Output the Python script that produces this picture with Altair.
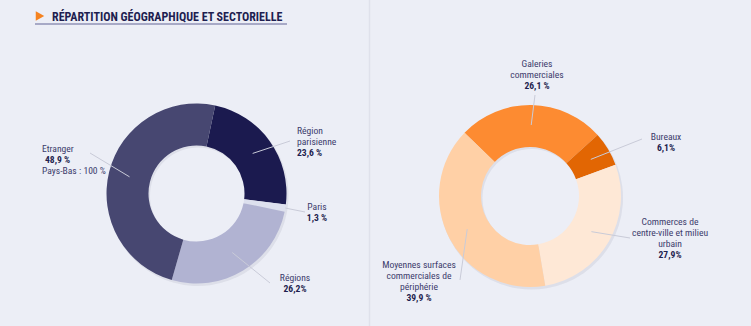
import math
import altair as alt
import pandas as pd

# ---------------- data ----------------
title_text = "RÉPARTITION GÉOGRAPHIQUE ET SECTORIELLE"

geo_labels = ["Région parisienne", "Paris", "Régions", "Etranger"]
geo_values = [23.6, 1.3, 26.2, 48.9]
geo_value_text = ["23,6 %", "1,3 %", "26,2%", "48,9 %"]
geo_name_lines = [["Région", "parisienne"], ["Paris"], ["Régions"], ["Etranger"]]
geo_extra = ["", "", "", "Pays-Bas : 100 %"]

sect_labels = ["Galeries commerciales", "Bureaux",
               "Commerces de centre-ville et milieu urbain",
               "Moyennes surfaces commerciales de périphérie"]
sect_values = [26.1, 6.1, 27.9, 39.9]
sect_value_text = ["26,1 %", "6,1%", "27,9%", "39,9 %"]
sect_name_lines = [["Galeries", "commerciales"], ["Bureaux"],
                   ["Commerces de", "centre-ville et milieu", "urbain"],
                   ["Moyennes surfaces", "commerciales de", "périphérie"]]
sect_extra = ["", "", "", ""]

# ---------------- styles / layout ----------------
W, H = 751, 326
BG = "#eceef6"
FONT = "Roboto Condensed, Liberation Sans Narrow, sans-serif"
NAME_COLOR = "#3c3c6c"
VALUE_COLOR = "#1f1f4f"
LEADER = "#c9cbd8"
FS = 9.6

geo_colors = ["#1b1a4f", "#dde0ee", "#b1b3d2", "#474771"]
sect_colors = ["#fd8b31", "#e26603", "#fee8d6", "#ffd0a6"]

LEFT = dict(cx=196.5, cy=193.5, r_out=90, r_in=48, start=12)
RIGHT = dict(cx=530, cy=196, r_out=91, r_in=49, start=314)

# leader line: (radius of start point, end point) and label block (x, y first line, align, value dx)
geo_leader = [(69, 290, 141), (90, 305, 212), (69, 270, 283), (69, 90, 153)]
geo_block = [(297, 131, "left", 0), (317, 207, "center", 0),
             (295, 278, "center", 0), (42, 149, "left", 3)]
sect_leader = [(71, 535, 95), (71, 642, 139), (71, 630, 238), (71, 460, 280)]
sect_block = [(537, 64, "center", 0), (666, 137, "center", 0),
              (670, 222, "center", 0), (419, 265, "center", 0)]
LINE_H = 11


def donut(labels, values, colors, g):
    df = pd.DataFrame({"cat": labels, "val": values, "ord": list(range(len(values)))})
    s = math.radians(g["start"])
    theta = alt.Theta("val:Q", stack=True,
                      scale=alt.Scale(domain=[0, sum(values)], range=[s, s + 2 * math.pi]))
    shadow = alt.Chart(df).mark_arc(radius=g["r_out"] + 0.5, radius2=g["r_in"],
                                    color="#70728a", opacity=0.12).encode(
        theta=theta, order=alt.Order("ord:Q"),
        x=alt.value(g["cx"] + 1.5), y=alt.value(g["cy"] + 2))
    ring = alt.Chart(df).mark_arc(radius=g["r_out"], radius2=g["r_in"]).encode(
        theta=theta, order=alt.Order("ord:Q"),
        color=alt.Color("cat:N", scale=alt.Scale(domain=labels, range=colors), legend=None),
        x=alt.value(g["cx"]), y=alt.value(g["cy"]))
    return shadow, ring


def leaders(values, g, spec):
    total = sum(values)
    rows, cum = [], 0.0
    for v, (r, ex, ey) in zip(values, spec):
        mid = math.radians(g["start"] + 360 * (cum + v / 2) / total)
        cum += v
        rows.append({"x": g["cx"] + r * math.sin(mid), "y": g["cy"] - r * math.cos(mid),
                     "x2": ex, "y2": ey})
    return rows


def label_rows(name_lines, value_text, extra, blocks):
    rows = []
    for names, vt, ex, (bx, by, al, vdx) in zip(name_lines, value_text, extra, blocks):
        y = by
        for n in names:
            rows.append({"t": n, "x": bx, "y": y, "al": al, "w": "normal"})
            y += LINE_H
        rows.append({"t": vt, "x": bx + vdx, "y": y, "al": al, "w": "bold"})
        y += LINE_H
        if ex:
            rows.append({"t": ex, "x": bx, "y": y, "al": al, "w": "normal"})
    return rows


sh_l, ring_l = donut(geo_labels, geo_values, geo_colors, LEFT)
sh_r, ring_r = donut(sect_labels, sect_values, sect_colors, RIGHT)

lead_df = pd.DataFrame(leaders(geo_values, LEFT, geo_leader) +
                       leaders(sect_values, RIGHT, sect_leader))
lead = alt.Chart(lead_df).mark_rule(color=LEADER, strokeWidth=1).encode(
    x=alt.X("x:Q", scale=None), y=alt.Y("y:Q", scale=None),
    x2="x2:Q", y2="y2:Q")

lab_df = pd.DataFrame(label_rows(geo_name_lines, geo_value_text, geo_extra, geo_block) +
                      label_rows(sect_name_lines, sect_value_text, sect_extra, sect_block))

text_layers = []
for al in ["left", "center"]:
    for w in ["normal", "bold"]:
        sub = lab_df[(lab_df.al == al) & (lab_df.w == w)]
        if len(sub) == 0:
            continue
        text_layers.append(alt.Chart(sub).mark_text(
            align=al, baseline="middle", font=FONT, fontSize=FS, fontWeight=w,
            color=VALUE_COLOR if w == "bold" else NAME_COLOR).encode(
            x=alt.X("x:Q", scale=None), y=alt.Y("y:Q", scale=None), text="t:N"))

# title decorations
base = alt.Chart(pd.DataFrame({"t": [title_text]}))
tri = base.mark_point(shape="triangle-right", filled=True, color="#f5821f",
                      opacity=1, size=95).encode(x=alt.value(40), y=alt.value(16))
title = base.mark_text(align="left", baseline="middle", font=FONT, fontSize=12,
                       fontWeight="bold", color="#1e1e50").encode(
    x=alt.value(52), y=alt.value(16.5), text="t:N")
underline = base.mark_rule(color="#a7a9c6", strokeWidth=2).encode(
    x=alt.value(35), x2=alt.value(287), y=alt.value(24))
divider = base.mark_rule(color="#dfe1eb", strokeWidth=1.5).encode(
    x=alt.value(369.5), y=alt.value(0), y2=alt.value(H))

chart = alt.layer(divider, underline, tri, title, sh_l, ring_l, sh_r, ring_r, lead,
                  *text_layers).resolve_scale(
    theta="independent", color="independent"
).properties(
    width=W, height=H, padding=0, autosize=alt.AutoSizeParams(type="none"),
    background=BG
).configure_view(stroke=None)

chart.save("out.html", embed_options={"renderer": "svg", "actions": False})
